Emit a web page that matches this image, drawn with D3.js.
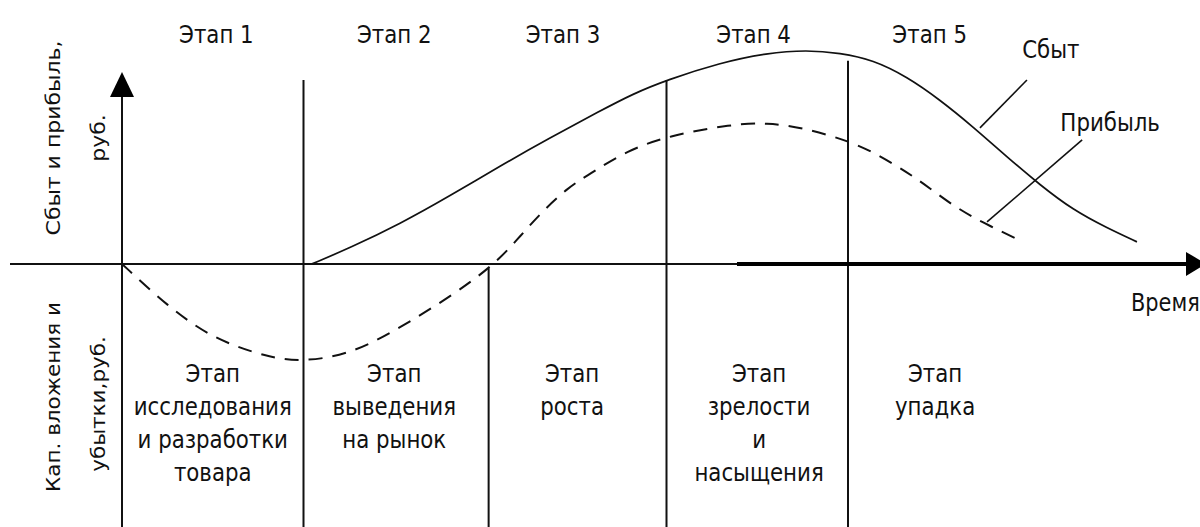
<!DOCTYPE html>
<html>
<head>
<meta charset="utf-8">
<script src="https://cdn.jsdelivr.net/npm/d3@7"></script>
<style>
  html, body { margin: 0; padding: 0; background: #fff; overflow: hidden; }
  text { font-family: "DejaVu Sans", sans-serif; fill: #111; }
</style>
</head>
<body>
<svg id="chart"></svg>
<script>
// stage boundaries on the time axis (stage units)
const stageStart = [0, 1, 2.02, 3, 4];
// where each boundary line begins at the top (value units, null = the y axis itself)
const stageTop = [null, 86, -2, 86, 95];

const topLabels = ["Этап 1", "Этап 2", "Этап 3", "Этап 4", "Этап 5"];
const topLabelT = [0.52, 1.5, 2.43, 3.48, 4.45];

const stageNames = [
  ["Этап", "исследования", "и разработки", "товара"],
  ["Этап", "выведения", "на рынок"],
  ["Этап", "роста"],
  ["Этап", "зрелости", "и", "насыщения"],
  ["Этап", "упадка"]
];
const stageNameT = [0.5, 1.5, 2.48, 3.51, 4.48];

// sales curve
const salesT = [1.047, 1.256, 1.532, 1.807, 2.083, 2.358, 2.634, 2.815, 3.003, 3.295, 3.554, 3.774,
                3.956, 4.138, 4.325, 4.507, 4.689, 4.876, 5.058, 5.24, 5.427, 5.592];
const salesV = [0, 7.5, 18.7, 31.8, 45.8, 58.9, 71.5, 79.5, 86, 94, 98.6, 100,
                98.6, 95.4, 87.5, 76.7, 64.1, 50, 36.9, 25.2, 16.8, 10.3];

// profit curve (negative = investment and losses)
const profitT = [0, 0.248, 0.501, 0.799, 0.981, 1.256, 1.532, 1.807, 2.044, 2.176, 2.303, 2.452,
                 2.595, 2.782, 3.003, 3.366, 3.554, 3.736, 4.05, 4.27, 4.413, 4.579, 4.744, 4.964];
const profitV = [0, -19.6, -35.1, -43.5, -45.8, -42.5, -29.9, -15.4, -0.9, 11.2, 23.4, 35.5,
                 43, 52.8, 59.8, 65.4, 65.9, 64, 56.6, 45.8, 37.9, 27.1, 19.2, 10.3];

const W = 1200, H = 527;
const svg = d3.select("#chart").attr("width", W).attr("height", H);

const x = d3.scaleLinear().domain([0, 5]).range([122, 1029.5]);
const y = d3.scaleLinear().domain([-123, 100]).range([527, 50]);

const sx = 0.87; // glyphs in the picture are a bit narrow
const txt = (g, s, px, py, anchor, size, rot) => g.append("text")
    .attr("transform", `translate(${px},${py}) scale(${sx},1)` + (rot ? " rotate(-90)" : ""))
    .attr("text-anchor", anchor || "middle")
    .style("font-size", (size || 24.5) + "px")
    .text(s);

// stage boundary lines
svg.append("g").selectAll("line")
    .data(stageStart.slice(1))
  .enter().append("line")
    .attr("x1", d => x(d)).attr("x2", d => x(d))
    .attr("y1", (d, i) => y(stageTop[i + 1]))
    .attr("y2", H)
    .attr("stroke", "#111").attr("stroke-width", 2);

// y axis with arrow
svg.append("line")
    .attr("x1", x(0)).attr("x2", x(0))
    .attr("y1", 95).attr("y2", H)
    .attr("stroke", "#111").attr("stroke-width", 2);
svg.append("path")
    .attr("d", `M${x(0)},72 L${x(0) - 12},97 L${x(0) + 12},97 Z`)
    .attr("fill", "#000");

// time axis with arrow
svg.append("line")
    .attr("x1", 10).attr("x2", 1190)
    .attr("y1", y(0)).attr("y2", y(0))
    .attr("stroke", "#111").attr("stroke-width", 2);
svg.append("line")
    .attr("x1", 737).attr("x2", 1190)
    .attr("y1", y(0)).attr("y2", y(0))
    .attr("stroke", "#000").attr("stroke-width", 4);
svg.append("path")
    .attr("d", `M1186,${y(0) - 12} L1206,${y(0)} L1186,${y(0) + 12} Z`)
    .attr("fill", "#000");

const line = d3.line()
    .x(d => x(d[0]))
    .y(d => y(d[1]))
    .curve(d3.curveBasis);

svg.append("path")
    .attr("d", line(d3.zip(salesT, salesV)))
    .attr("fill", "none").attr("stroke", "#111").attr("stroke-width", 1.7);

svg.append("path")
    .attr("d", line(d3.zip(profitT, profitV)))
    .attr("fill", "none").attr("stroke", "#111").attr("stroke-width", 2)
    .attr("stroke-dasharray", "14,10");

// leader lines
const leaders = [[[4.986, 86], [4.727, 63.6]], [[5.29, 58], [4.766, 19.6]]];
svg.append("g").selectAll("line")
    .data(leaders)
  .enter().append("line")
    .attr("x1", d => x(d[0][0])).attr("y1", d => y(d[0][1]))
    .attr("x2", d => x(d[1][0])).attr("y2", d => y(d[1][1]))
    .attr("stroke", "#111").attr("stroke-width", 1.6);

const labels = svg.append("g");
txt(labels, "Сбыт", x(4.96), 58, "start");
txt(labels, "Прибыль", x(5.17), 131, "start");
txt(labels, "Время", 1131, 311, "start", 24);

topLabels.forEach((s, i) => txt(labels, s, x(topLabelT[i]), 43));

stageNames.forEach((lines, i) => {
  lines.forEach((s, j) => txt(labels, s, x(stageNameT[i]), 382 + j * 33));
});

// vertical axis titles
txt(labels, "Сбыт и прибыль,", 60, 138, "middle", 22, true);
txt(labels, "руб.", 105, 138, "middle", 22, true);
txt(labels, "Кап. вложения и", 60, 397, "middle", 21.5, true);
txt(labels, "убытки,руб.", 105, 404, "middle", 21.5, true);
</script>
</body>
</html>
